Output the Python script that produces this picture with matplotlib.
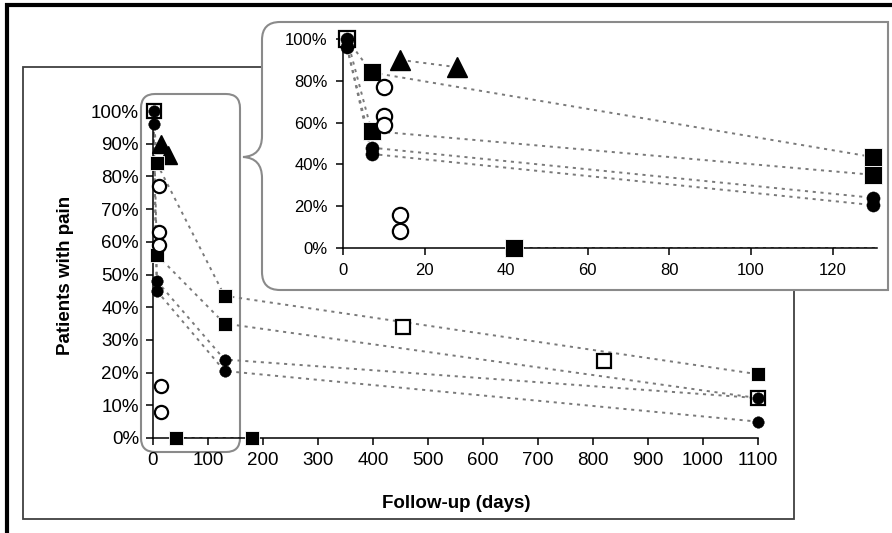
import matplotlib
matplotlib.use("Agg")
import matplotlib.pyplot as plt
from matplotlib.path import Path
from matplotlib.patches import PathPatch, FancyBboxPatch, Rectangle
from matplotlib.ticker import PercentFormatter, MultipleLocator

plt.rcParams["font.family"] = ["Liberation Sans", "DejaVu Sans"]

W, H = 892, 533

# marker groups (days, % patients with pain)
fsq_days = [7, 7, 42, 130, 130, 180, 1100]
fsq_pain = [84, 56, 0, 43.5, 35, 0, 19.5]
osq_days = [1, 455, 820, 1100]
osq_pain = [100, 34, 23.5, 12.2]
fci_days = [1, 1, 7, 7, 130, 130, 1100, 1100]
fci_pain = [100, 96, 48, 45, 24, 20.5, 12.2, 5]
oci_days = [10, 10, 10, 14, 14]
oci_pain = [77, 63, 59, 16, 8]
tri_days = [14, 28]
tri_pain = [90, 86.5]

# dotted connecting lines
links = [
    ([1, 7], [100, 84]),
    ([1, 7], [100, 56]),
    ([1, 7], [96, 48]),
    ([1, 7], [96, 45]),
    ([7, 130, 1100], [84, 43.5, 19.5]),
    ([7, 130, 1100], [56, 35, 12.2]),
    ([7, 130, 1100], [48, 24, 12.2]),
    ([7, 130, 1100], [45, 20.5, 5]),
    ([14, 28], [90, 86.5]),
    ([42, 180], [0, 0]),
]

main_xticks = list(range(0, 1101, 100))
inset_xticks = list(range(0, 121, 20))


def px_rect(l, t, r, b):
    return (l / W, 1 - b / H, (r - l) / W, (b - t) / H)


fig = plt.figure(figsize=(W / 100, H / 100), dpi=100, facecolor="white")

# background: chart frame and zoom box
bg = fig.add_axes((0, 0, 1, 1), zorder=0)
bg.set_xlim(0, W)
bg.set_ylim(H, 0)
bg.axis("off")
bg.add_patch(Rectangle((23, 67), 771, 452, facecolor="white", edgecolor="#404040", lw=1.3))
bg.add_patch(FancyBboxPatch((141 + 14, 94 + 14), 99 - 28, 358 - 28,
                            boxstyle="round,pad=14", facecolor="none",
                            edgecolor="#8a8a8a", lw=1.5))

line_kw = dict(color="#7a7a7a", lw=1.4, ls=(0, (1.6, 2.4)))


def draw(ax, lim, sz):
    for xs, ys in links:
        ax.plot(xs, ys, zorder=2, **line_kw)

    def sel(xs, ys):
        pts = [(x, y) for x, y in zip(xs, ys) if x <= lim]
        return [p[0] for p in pts], [p[1] for p in pts]

    x, y = sel(osq_days, osq_pain)
    ax.plot(x, y, ls="none", marker="s", ms=sz["osq"], mfc="white", mec="black", mew=1.6, clip_on=False, zorder=3)
    x, y = sel(tri_days, tri_pain)
    ax.plot(x, y, ls="none", marker="^", ms=sz["tri"], mfc="black", mec="black", clip_on=False, zorder=3)
    x, y = sel(fsq_days, fsq_pain)
    ax.plot(x, y, ls="none", marker="s", ms=sz["fsq"], mfc="black", mec="white", mew=0.6, clip_on=False, zorder=4)
    x, y = sel(oci_days, oci_pain)
    ax.plot(x, y, ls="none", marker="o", ms=sz["oci"], mfc="white", mec="black", mew=1.6, clip_on=False, zorder=4)
    x, y = sel(fci_days, fci_pain)
    ax.plot(x, y, ls="none", marker="o", ms=sz["fci"], mfc="black", mec="black", mew=0.3, clip_on=False, zorder=5)

    for sp in ("top", "right"):
        ax.spines[sp].set_visible(False)
    for sp in ("left", "bottom"):
        ax.spines[sp].set_linewidth(1.1)
    ax.set_facecolor("none")
    ax.yaxis.set_major_formatter(PercentFormatter(100, decimals=0))


# main chart
ax = fig.add_axes(px_rect(153, 111, 758, 438), zorder=1)
draw(ax, 1e9, dict(osq=9.5, tri=13, fsq=10.5, oci=9.5, fci=8.3))
ax.set_xlim(0, 1100)
ax.set_ylim(0, 100)
ax.set_xticks(main_xticks)
ax.yaxis.set_major_locator(MultipleLocator(10))
ax.tick_params(labelsize=13.5, length=5, width=1.1, pad=5)
fig.text(456 / W, 1 - 503 / H, "Follow-up (days)", ha="center", va="center",
         fontsize=13.5, fontweight="bold")
fig.text(65 / W, 1 - 275 / H, "Patients with pain", ha="center", va="center",
         rotation=90, fontsize=13.5, fontweight="bold")

# inset box with brace on the left
ov = fig.add_axes((0, 0, 1, 1), zorder=2)
ov.set_xlim(0, W)
ov.set_ylim(H, 0)
ov.axis("off")
L, T, R, B, r = 262, 22, 888, 290, 18
verts = [
    (R, T), (L + r, T), (L, T), (L, T + r),
    (L, 136), (L, 156), (243, 157),
    (L, 158), (L, 178),
    (L, B - r), (L, B), (L + r, B),
    (R, B), (R, T),
]
codes = [
    Path.MOVETO, Path.LINETO, Path.CURVE3, Path.CURVE3,
    Path.LINETO, Path.CURVE3, Path.CURVE3,
    Path.CURVE3, Path.CURVE3,
    Path.LINETO, Path.CURVE3, Path.CURVE3,
    Path.LINETO, Path.CLOSEPOLY,
]
ov.add_patch(PathPatch(Path(verts, codes), facecolor="white", edgecolor="#8a8a8a", lw=1.5))
# outer image border (top and left)
ov.plot([5, W], [4.5, 4.5], color="black", lw=3, solid_capstyle="butt")
ov.plot([6.5, 6.5], [3, H], color="black", lw=3, solid_capstyle="butt")

# inset chart
ax2 = fig.add_axes(px_rect(343, 39, 877.5, 248), zorder=3)
draw(ax2, 131, dict(osq=11, tri=14, fsq=12.5, oci=11, fci=9.5))
ax2.set_xlim(0, 131)
ax2.set_ylim(0, 100)
ax2.set_xticks(inset_xticks)
ax2.yaxis.set_major_locator(MultipleLocator(20))
ax2.tick_params(labelsize=12, length=5, width=1.1, pad=6)

fig.savefig("out.png", dpi=100, facecolor="white")
